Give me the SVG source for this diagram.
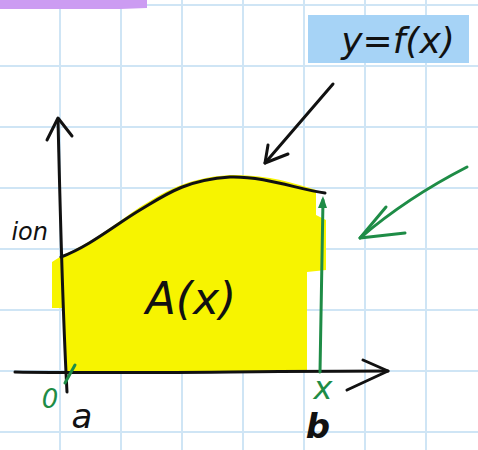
<svg xmlns="http://www.w3.org/2000/svg" width="478" height="450" viewBox="0 0 478 450">
<defs>
<style>
.grid line{stroke:#cfe5f5;stroke-width:2}
.ink{fill:none;stroke:#111;stroke-width:3;stroke-linecap:round;stroke-linejoin:round}
.green{fill:none;stroke:#1e8c46;stroke-width:3;stroke-linecap:round;stroke-linejoin:round}
.hand{font-family:"DejaVu Sans","Liberation Sans",sans-serif;font-style:italic}
</style>
</defs>
<rect width="478" height="450" fill="#ffffff"/>
<g id="grid" class="grid">
<line x1="60" y1="0" x2="60" y2="450"/>
<line x1="121" y1="0" x2="121" y2="450"/>
<line x1="182" y1="0" x2="182" y2="450"/>
<line x1="243" y1="0" x2="243" y2="450"/>
<line x1="304" y1="0" x2="304" y2="450"/>
<line x1="365" y1="0" x2="365" y2="450"/>
<line x1="426" y1="0" x2="426" y2="450"/>
<line x1="0" y1="5" x2="478" y2="5"/>
<line x1="0" y1="66" x2="478" y2="66"/>
<line x1="0" y1="127" x2="478" y2="127"/>
<line x1="0" y1="188" x2="478" y2="188"/>
<line x1="0" y1="249" x2="478" y2="249"/>
<line x1="0" y1="310" x2="478" y2="310"/>
<line x1="0" y1="371" x2="478" y2="371"/>
<line x1="0" y1="432" x2="478" y2="432"/>
</g>
<g id="highlights">
<path d="M0,0 H147 V8 L120,9 H0 Z" fill="#cc9cf2"/>
<rect x="308" y="15" width="161" height="48" fill="#a6d3f6"/>
<path d="M52,262 L63,255 C90,244 115,224 140,207 C165,192 185,178 230,175 C265,174 295,183 316,190 L316,215 L326,220 L326,270 L307,272 L307,372 L66,372 L64,308 L52,308 Z" fill="#f7f400"/>
</g>
<g id="axes">
<path class="ink" d="M58,120 C60,200 62,300 67,392"/>
<path class="ink" d="M47,140 L58,118 L72,136"/>
<path class="ink" d="M15,372 C120,374 250,371 388,371"/>
<path class="ink" d="M363,360 L388,371 L347,390"/>
</g>
<g id="curve">
<path class="ink" d="M61,257 C90,246 115,225 140,210 C165,195 185,180 230,177 C265,176 300,190 325,193"/>
</g>
<g id="connectors">
<path class="ink" d="M333,84 L265,163"/>
<path class="ink" d="M268,145 L265,163 L288,154"/>
<path class="green" d="M467,167 C430,186 395,208 360,238"/>
<path class="green" d="M386,207 L360,238 L405,233"/>
<path class="green" d="M320,372 L323,200"/>
<path d="M318,208 L323,196 L327,208 Z" fill="#1e8c46"/>
<path class="green" d="M75,365 L65,383"/>
</g>
<g id="labels">
<text class="hand" x="398" y="53" font-size="36" text-anchor="middle" fill="#111">y=f(x)</text>
<text class="hand" x="191" y="314" font-size="44" text-anchor="middle" fill="#111">A(x)</text>
<text class="hand" x="48" y="240" font-size="24" text-anchor="end" fill="#111">ion</text>
<text class="hand" x="50" y="408" font-size="26" text-anchor="middle" fill="#1e8c46">0</text>
<text class="hand" x="82" y="428" font-size="34" text-anchor="middle" fill="#111">a</text>
<text class="hand" x="323" y="399" font-size="32" text-anchor="middle" fill="#1e8c46">x</text>
<text class="hand" x="318" y="438" font-size="34" font-weight="bold" text-anchor="middle" fill="#111">b</text>
</g>
</svg>
